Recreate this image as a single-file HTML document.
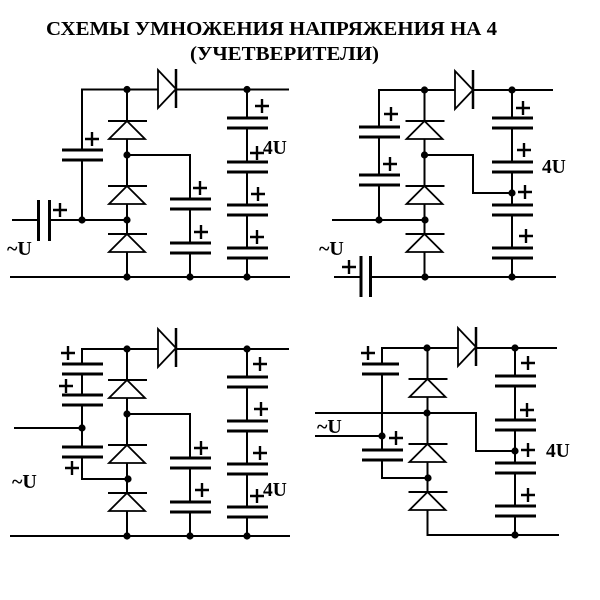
<!DOCTYPE html>
<html><head><meta charset="utf-8"><style>
html,body{margin:0;padding:0;background:#fff}
svg{display:block}
text{font-family:"Liberation Serif",serif;font-weight:bold;fill:#000}
</style></head><body>
<svg width="600" height="600" viewBox="0 0 600 600" xmlns="http://www.w3.org/2000/svg">
<defs>
<g id="d"><path d="M-19 0H20" stroke="#000" stroke-width="2"/><path d="M0 0L-18 18H18Z" fill="#fff" stroke="#000" stroke-width="1.800"/></g>
<g id="h"><path d="M0 -19L18 0L0 19Z" fill="#fff" stroke="#000" stroke-width="1.800"/><path d="M18 -20V19" stroke="#000" stroke-width="2.500"/></g>
<g id="c"><rect x="-21" y="0" width="42" height="10" fill="#fff"/><path d="M-20.500 0H20.500M-20.500 10H20.500" stroke="#000" stroke-width="3"/></g>
<g id="p"><path d="M-7 0H7M0 -7V7" stroke="#000" stroke-width="2.400"/></g>
<circle id="j" r="3.600" fill="#000"/>
</defs>
<rect width="600" height="600" fill="#fff"/>
<text x="46" y="35" font-size="20" textLength="451" lengthAdjust="spacingAndGlyphs">СХЕМЫ УМНОЖЕНИЯ НАПРЯЖЕНИЯ НА 4</text>
<text x="190" y="60" font-size="20" textLength="189" lengthAdjust="spacingAndGlyphs">(УЧЕТВЕРИТЕЛИ)</text>

<!-- Diagram 1 -->
<g fill="none" stroke="#000" stroke-width="2">
<path d="M82 220V89.500H289M127 89.500V277M247 89.500V277M10 277H290M12 220H38M49 220H127M127 155H190V277"/>
</g>
<use href="#h" x="158" y="89"/>
<use href="#d" x="127" y="121"/><use href="#d" x="127" y="186"/><use href="#d" x="127" y="234"/>
<use href="#c" x="82.500" y="150"/>
<use href="#c" x="190.500" y="199"/><use href="#c" x="190.500" y="243"/>
<use href="#c" x="247.500" y="118"/><use href="#c" x="247.500" y="162"/><use href="#c" x="247.500" y="205"/><use href="#c" x="247.500" y="248"/>
<path d="M38.500 200V241M49.500 200V241" stroke="#000" stroke-width="3"/>
<use href="#j" x="127" y="89.500"/><use href="#j" x="247" y="89.500"/><use href="#j" x="127" y="155"/><use href="#j" x="127" y="220"/><use href="#j" x="82" y="220"/><use href="#j" x="127" y="277"/><use href="#j" x="190" y="277"/><use href="#j" x="247" y="277"/>
<use href="#p" x="92" y="139"/><use href="#p" x="60" y="210"/><use href="#p" x="262" y="106"/><use href="#p" x="257" y="153"/><use href="#p" x="258" y="194"/><use href="#p" x="257" y="237"/><use href="#p" x="200" y="188"/><use href="#p" x="201" y="232"/>
<text x="263" y="154" font-size="19.500">4U</text>
<text x="7" y="255" font-size="20">~U</text>

<!-- Diagram 2 -->
<g fill="none" stroke="#000" stroke-width="2">
<path d="M379 220V90H553M424.500 90V277M512 90V277M334 277H361M370 277H556M332 220H425M424 155H473V193H512"/>
</g>
<use href="#h" x="455" y="90"/>
<use href="#d" x="424.500" y="121"/><use href="#d" x="424.500" y="186"/><use href="#d" x="424.500" y="234"/>
<use href="#c" x="379.500" y="127"/><use href="#c" x="379.500" y="175"/>
<use href="#c" x="512.500" y="118"/><use href="#c" x="512.500" y="162"/><use href="#c" x="512.500" y="205"/><use href="#c" x="512.500" y="248"/>
<path d="M361 256V297M370.500 256V297" stroke="#000" stroke-width="3"/>
<use href="#j" x="424.500" y="90"/><use href="#j" x="512" y="90"/><use href="#j" x="424.500" y="155"/><use href="#j" x="425" y="220"/><use href="#j" x="379" y="220"/><use href="#j" x="425" y="277"/><use href="#j" x="512" y="277"/><use href="#j" x="512" y="193"/>
<use href="#p" x="391" y="114"/><use href="#p" x="390" y="164"/><use href="#p" x="523" y="108"/><use href="#p" x="524" y="150"/><use href="#p" x="525" y="192"/><use href="#p" x="526" y="236"/><use href="#p" x="349" y="267"/>
<text x="542" y="173" font-size="19.500">4U</text>
<text x="319" y="255" font-size="20">~U</text>

<!-- Diagram 3 -->
<g fill="none" stroke="#000" stroke-width="2">
<path d="M127 479H82V349H289M127 349V536M247 349V536M10 536H290M127 414H190V536M14 428H82"/>
</g>
<use href="#h" x="158" y="348"/>
<use href="#d" x="127" y="380"/><use href="#d" x="127" y="445"/><use href="#d" x="127" y="493"/>
<use href="#c" x="82.500" y="364"/><use href="#c" x="82.500" y="395"/><use href="#c" x="82.500" y="447"/>
<use href="#c" x="190.500" y="458"/><use href="#c" x="190.500" y="502"/>
<use href="#c" x="247.500" y="377"/><use href="#c" x="247.500" y="421"/><use href="#c" x="247.500" y="464"/><use href="#c" x="247.500" y="507"/>
<use href="#j" x="127" y="349"/><use href="#j" x="247" y="349"/><use href="#j" x="127" y="414"/><use href="#j" x="128" y="479"/><use href="#j" x="82" y="428"/><use href="#j" x="127" y="536"/><use href="#j" x="190" y="536"/><use href="#j" x="247" y="536"/>
<use href="#p" x="68" y="353"/><use href="#p" x="66" y="386"/><use href="#p" x="72" y="468"/><use href="#p" x="260" y="364"/><use href="#p" x="261" y="409"/><use href="#p" x="260" y="453"/><use href="#p" x="257" y="496"/><use href="#p" x="201" y="448"/><use href="#p" x="202" y="490"/>
<text x="263" y="496" font-size="19.500">4U</text>
<text x="12" y="488" font-size="20">~U</text>

<!-- Diagram 4 -->
<g fill="none" stroke="#000" stroke-width="2">
<path d="M427.500 478H382V348H557M427.500 348V535H559M515 348V535M315 413H476V451H515M315 436H382"/>
</g>
<use href="#h" x="458" y="347"/>
<use href="#d" x="427.500" y="379"/><use href="#d" x="427.500" y="444"/><use href="#d" x="427.500" y="492"/>
<rect x="361" y="364" width="40" height="10" fill="#fff"/><path d="M362 364H399M362 374H399" stroke="#000" stroke-width="3"/>
<use href="#c" x="382.500" y="450"/>
<use href="#c" x="515.500" y="376"/><use href="#c" x="515.500" y="420"/><use href="#c" x="515.500" y="463"/><use href="#c" x="515.500" y="506"/>
<use href="#j" x="427" y="348"/><use href="#j" x="515" y="348"/><use href="#j" x="427" y="413"/><use href="#j" x="428" y="478"/><use href="#j" x="382" y="436"/><use href="#j" x="515" y="451"/><use href="#j" x="515" y="535"/>
<use href="#p" x="368" y="353"/><use href="#p" x="396" y="438"/><use href="#p" x="528" y="363"/><use href="#p" x="527" y="410"/><use href="#p" x="528" y="450"/><use href="#p" x="528" y="495"/>
<text x="546" y="457" font-size="19.500">4U</text>
<text x="317" y="433" font-size="20">~U</text>
</svg>
</body></html>
